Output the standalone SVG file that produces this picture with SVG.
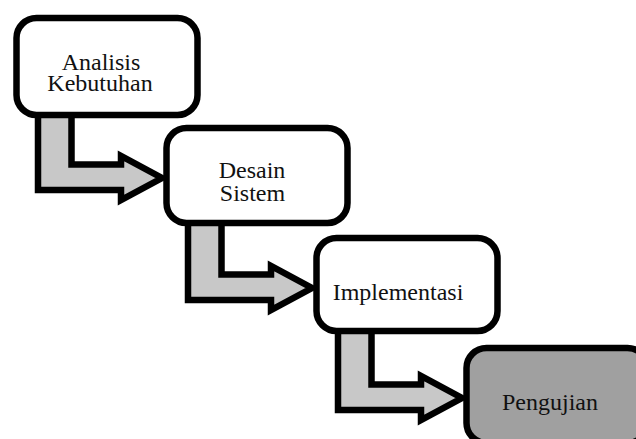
<svg xmlns="http://www.w3.org/2000/svg" width="636" height="439" viewBox="0 0 636 439">
<style>
.arrow{fill:#c8c8c8;stroke:#000;stroke-width:6.5;stroke-linejoin:miter}
.box{fill:#fff;stroke:#000;stroke-width:6.5}
.box.gray{fill:#a0a0a0}
.lbl{font-family:"Liberation Serif","Times New Roman",serif;font-size:24px;fill:#111;text-anchor:middle}
</style>
<rect width="636" height="439" fill="#fff"/>
<g id="connectors">
<polygon class="arrow" points="38,110 38,190 121,190 121,200 162,178 121,156 121,164.5 71.5,164.5 71.5,110"/>
<polygon class="arrow" points="188,220 188,300 271,300 271,310 312,288 271,266 271,274.5 221.5,274.5 221.5,220"/>
<polygon class="arrow" points="338,330 338,410 421,410 421,420 462,398 421,376 421,384.5 371.5,384.5 371.5,330"/>
</g>
<g id="analisis">
<rect class="box" x="16.5" y="18" width="181" height="97" rx="20" ry="20"/>
<text class="lbl" x="101" y="70">Analisis</text>
<text class="lbl" x="100" y="91">Kebutuhan</text>
</g>
<g id="desain">
<rect class="box" x="166.5" y="128" width="181" height="95" rx="20" ry="20"/>
<text class="lbl" x="252" y="178">Desain</text>
<text class="lbl" x="252.5" y="201">Sistem</text>
</g>
<g id="implementasi">
<rect class="box" x="316.5" y="238" width="181" height="93" rx="20" ry="20"/>
<text class="lbl" x="398" y="300">Implementasi</text>
</g>
<g id="pengujian">
<rect class="box gray" x="466.5" y="348" width="181" height="95" rx="20" ry="20"/>
<text class="lbl" x="550" y="410">Pengujian</text>
</g>
</svg>
